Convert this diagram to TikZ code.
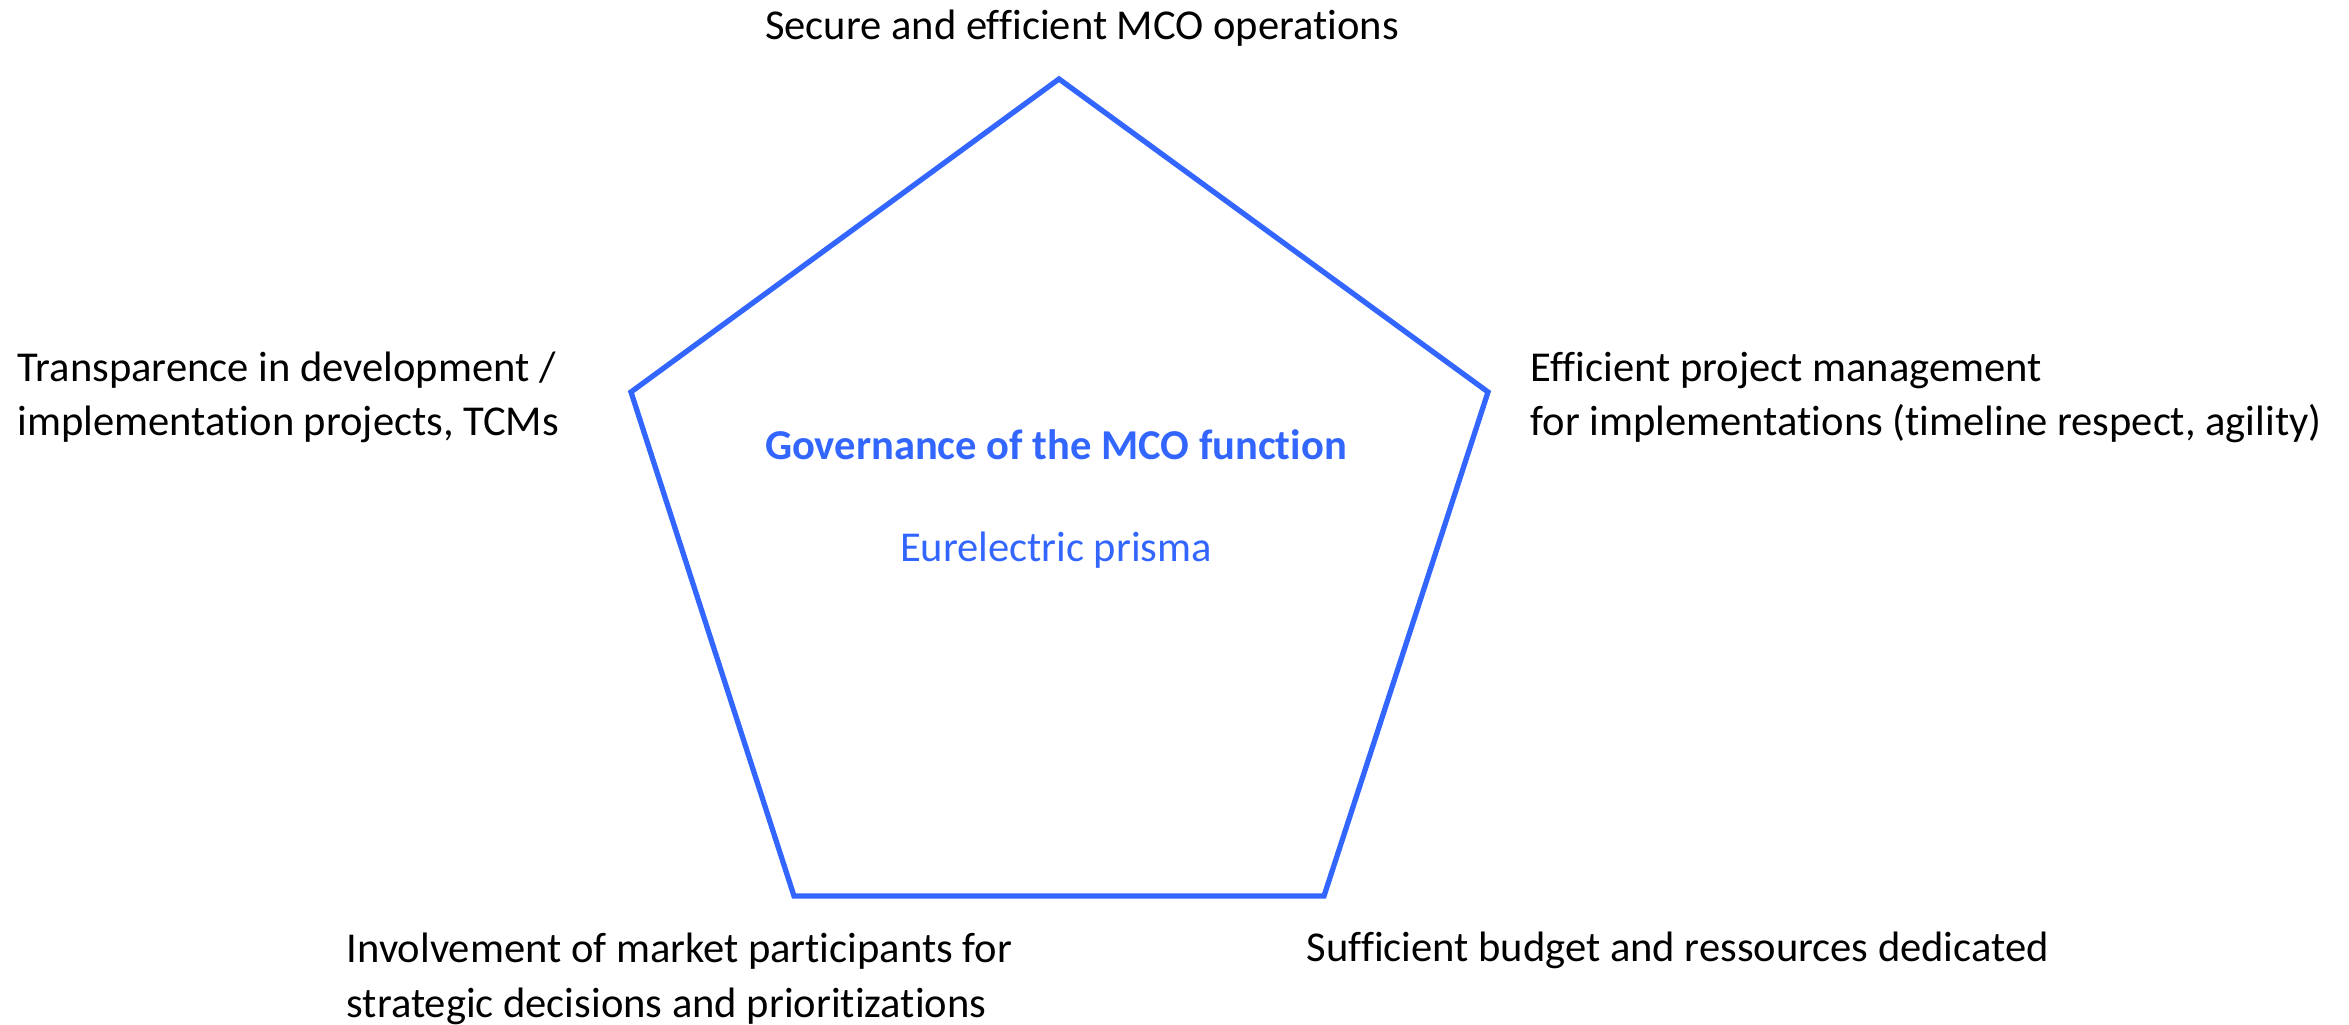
\documentclass[tikz,border=0pt]{standalone}
\usepackage{fontspec}
\setmainfont{Carlito}[Ligatures=NoCommon]
\definecolor{prismablue}{RGB}{51,102,255}
\tikzset{
	goal/.style={inner sep=0pt, align=left, font=\fontsize{12.1}{15.6}\selectfont},
	title/.style={inner sep=0pt, text=prismablue, font=\fontsize{12.1}{15.6}\selectfont}
}

\begin{document}
\begin{tikzpicture}[x=0.01cm, y=-0.01cm]
			%%%%% START %%%%%
			\useasboundingbox (0, 0) rectangle (2349, 1025);
			
			% pentagon
			\draw[line width=1.5pt, color=prismablue, line join=miter]
				(1059, 79) -- (1488, 392) -- (1324, 896) -- (794, 896) -- (631, 392) -- cycle;
			
			\node[title, font=\fontsize{12.1}{15.6}\selectfont\bfseries] (gov) at (1056, 445) {Governance of the MCO function};
			\node[title] (prisma) at (1056, 550) {Eurelectric prisma};
			
			% goals (base = last line)
			\node[goal, anchor=base] (secure) at (1082, 40) {Secure and efficient MCO operations};
			\node[goal, anchor=base west] (transp) at (17, 436) {Transparence in development /\\implementation projects, TCMs};
			\node[goal, anchor=base west] (project) at (1530, 436) {Efficient project management\\for implementations (timeline respect, agility)};
			\node[goal, anchor=base west] (involve) at (346, 1017) {Involvement of market participants for\\strategic decisions and prioritizations};
			\node[goal, anchor=base west] (budget) at (1306, 961) {Sufficient budget and ressources dedicated};
			
			%%%%% END %%%%%
\end{tikzpicture}
\end{document}
